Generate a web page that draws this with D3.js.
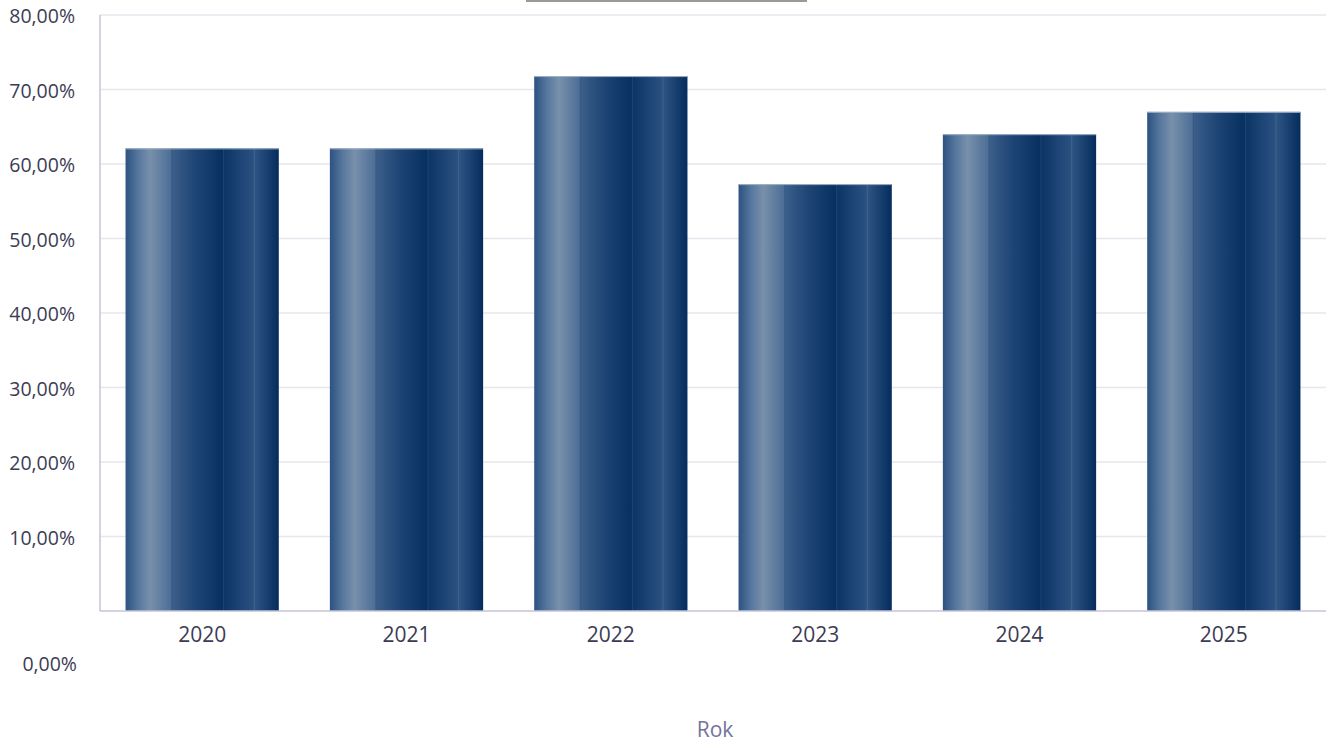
<!DOCTYPE html>
<html>
<head>
<meta charset="utf-8">
<script src="https://cdn.jsdelivr.net/npm/d3@7"></script>
<style>
  body { margin: 0; background: #fff; }
  text { font-family: "Open Sans", sans-serif; }
</style>
</head>
<body>
<div id="chart"></div>
<script>
// daten
const years = ["2020", "2021", "2022", "2023", "2024", "2025"];
const values = [62.1, 62.1, 71.8, 57.3, 64.0, 67.0];
const yTicks = [10, 20, 30, 40, 50, 60, 70, 80];

const W = 1326, H = 744;
const svg = d3.select("#chart").append("svg")
  .attr("width", W)
  .attr("height", H);

const plotLeft = 100, plotRight = 1326, plotTop = 15, plotBottom = 611;

const x = d3.scaleBand()
  .domain(years)
  .range([plotLeft, plotRight])
  .paddingInner(0.25)
  .paddingOuter(0.125);

const y = d3.scaleLinear()
  .domain([0, 80])
  .range([plotBottom, plotTop]);

const fmt = v => d3.format(".2f")(v).replace(".", ",") + "%";

// verlauf fuer die saeulen
const defs = svg.append("defs");
const grad = defs.append("linearGradient")
  .attr("id", "barGrad")
  .attr("x1", "0%").attr("x2", "100%")
  .attr("y1", "0%").attr("y2", "0%");
[
  [0, "#2c5281"], [0.08, "#55769d"], [0.16, "#7890ab"], [0.30, "#4c6d96"],
  [0.301, "#3d5f8b"], [0.46, "#1d4474"], [0.64, "#06305f"], [0.641, "#0b3565"],
  [0.83, "#2a5080"], [0.84, "#2f5584"], [1, "#042c5c"]
].forEach(s => grad.append("stop").attr("offset", s[0]).attr("stop-color", s[1]));

// gitternetz
svg.append("g")
  .selectAll("line")
  .data(yTicks)
  .enter().append("line")
  .attr("x1", plotLeft).attr("x2", plotRight)
  .attr("y1", d => y(d)).attr("y2", d => y(d))
  .attr("stroke", "#e6e6ee")
  .attr("stroke-width", 1.5);

// graue linie oben
svg.append("rect")
  .attr("x", 526).attr("y", 0)
  .attr("width", 281).attr("height", 2)
  .attr("fill", "#9a9a92");

// saeulen
const bars = svg.append("g")
  .selectAll("g")
  .data(years.map((d, i) => ({ year: d, value: values[i] })))
  .enter().append("g");

bars.append("rect")
  .attr("x", d => x(d.year))
  .attr("y", d => y(d.value))
  .attr("width", x.bandwidth())
  .attr("height", d => plotBottom - y(d.value))
  .attr("fill", "url(#barGrad)");

// feine senkrechte kanten
[0.30, 0.64, 0.84].forEach(f => {
  bars.append("line")
    .attr("x1", d => x(d.year) + f * x.bandwidth())
    .attr("x2", d => x(d.year) + f * x.bandwidth())
    .attr("y1", d => y(d.value))
    .attr("y2", plotBottom)
    .attr("stroke", f === 0.84 ? "#4a6c94" : "#34537a")
    .attr("stroke-opacity", 0.6)
    .attr("stroke-width", 1);
});

// obere kante
bars.append("line")
  .attr("x1", d => x(d.year))
  .attr("x2", d => x(d.year) + x.bandwidth())
  .attr("y1", d => y(d.value) + 0.5)
  .attr("y2", d => y(d.value) + 0.5)
  .attr("stroke", "#9fb2c8")
  .attr("stroke-width", 1);

// achsen
svg.append("line")
  .attr("x1", plotLeft).attr("x2", plotLeft)
  .attr("y1", plotTop).attr("y2", plotBottom)
  .attr("stroke", "#c4c4da").attr("stroke-width", 1.5);
svg.append("line")
  .attr("x1", plotLeft).attr("x2", plotRight)
  .attr("y1", plotBottom).attr("y2", plotBottom)
  .attr("stroke", "#c4c4da").attr("stroke-width", 1.5);

// y beschriftung
svg.append("g")
  .selectAll("text")
  .data(yTicks)
  .enter().append("text")
  .attr("x", 75)
  .attr("y", d => y(d) + 8)
  .attr("text-anchor", "end")
  .attr("fill", "#3c3c54")
  .style("font-size", "19.5px")
  .text(d => fmt(d));

svg.append("text")
  .attr("x", 77)
  .attr("y", 671)
  .attr("text-anchor", "end")
  .attr("fill", "#3c3c54")
  .style("font-size", "19.5px")
  .text(fmt(0));

// x beschriftung
svg.append("g")
  .selectAll("text")
  .data(years)
  .enter().append("text")
  .attr("x", d => x(d) + x.bandwidth() / 2)
  .attr("y", 642)
  .attr("text-anchor", "middle")
  .attr("fill", "#3c3c54")
  .style("font-size", "21px")
  .text(d => d);

svg.append("text")
  .attr("x", 715)
  .attr("y", 737)
  .attr("text-anchor", "middle")
  .attr("fill", "#73739a")
  .style("font-size", "21px")
  .text("Rok");
</script>
</body>
</html>
